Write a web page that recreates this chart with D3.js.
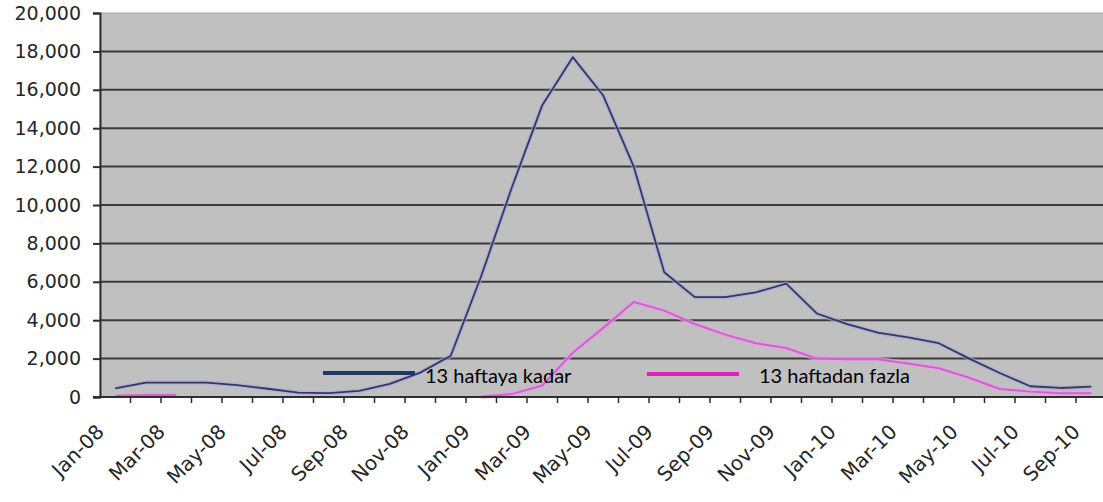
<!DOCTYPE html>
<meta charset="utf-8">
<title>13 haftaya kadar / 13 haftadan fazla</title>
<style>
body {
  margin: 0px;
  background: white;
}
svg {
  display: block;
}
.ylab, .xlab {
  font-family: "DejaVu Sans", Verdana, sans-serif;
  font-size: 19px;
  fill: #262626;
}
.xlab {
  font-size: 20px;
}
.legend text {
  font-family: Lato, "Open Sans", sans-serif;
  font-size: 20px;
  fill: #000;
}
</style>
<body>
<div id="chart"></div>
</body>
<script src="https://cdn.jsdelivr.net/npm/d3@7/dist/d3.min.js"></script>
<script>

// Months on the x axis
var months = ["Jan-08","Feb-08","Mar-08","Apr-08","May-08","Jun-08","Jul-08","Aug-08","Sep-08","Oct-08","Nov-08","Dec-08",
              "Jan-09","Feb-09","Mar-09","Apr-09","May-09","Jun-09","Jul-09","Aug-09","Sep-09","Oct-09","Nov-09","Dec-09",
              "Jan-10","Feb-10","Mar-10","Apr-10","May-10","Jun-10","Jul-10","Aug-10","Sep-10"];

// 13 haftaya kadar
var upTo13 = [450, 750, 750, 750, 620, 430, 230, 200, 320, 680, 1270, 2150,
              6300, 10900, 15200, 17700, 15700, 12000, 6500, 5200, 5200, 5450, 5900, 4350,
              3800, 3350, 3100, 2800, 2000, 1250, 560, 470, 540];

// 13 haftadan fazla (no values between May-08 and Dec-08)
var over13 = [60, 100, 100, null, null, null, null, null, null, null, null, null,
              20, 150, 600, 2300, 3600, 4950, 4500, 3800, 3250, 2800, 2550, 2000,
              1960, 1960, 1750, 1500, 1000, 420, 280, 200, 190];

var yTicks = d3.range(0, 20001, 2000);
var labelEvery = 2;

var width = 1103, height = 502;

var svg = d3.select("#chart").append("svg")
    .attr("width", width)
    .attr("height", height);

var x = d3.scaleBand()
    .domain(months)
    .range([100, 100 + months.length * 30.5]);

var y = d3.scaleLinear()
    .domain([0, 20000])
    .range([397, 13]);

var cx = function(i){ return x(months[i]) + x.bandwidth() / 2; };

// plot area
svg.append("rect")
    .attr("x", x.range()[0])
    .attr("y", y(20000))
    .attr("width", x.range()[1] - x.range()[0])
    .attr("height", y(0) - y(20000))
    .attr("fill", "#c0c0c0")
    .attr("stroke", "#a8a8a8")
    .attr("stroke-width", 1);

// gridlines
svg.append("g").selectAll("line")
    .data(yTicks.filter(function(t){ return t > 0 && t < 20000; }))
    .enter().append("line")
    .attr("x1", x.range()[0])
    .attr("x2", x.range()[1])
    .attr("y1", y)
    .attr("y2", y)
    .attr("stroke", "#3c3c3c")
    .attr("stroke-width", 2);

// series lines
var line = d3.line()
    .defined(function(d){ return d != null; })
    .x(function(d, i){ return cx(i); })
    .y(function(d){ return y(d); });

var series = svg.append("g");

// soft halo under the blue line
series.append("path")
    .attr("d", line(upTo13))
    .attr("fill", "none")
    .attr("stroke", "#aaa6d6")
    .attr("stroke-width", 4.5)
    .attr("stroke-opacity", 0.6)
    .attr("stroke-linejoin", "round");

series.append("path")
    .attr("d", line(upTo13))
    .attr("fill", "none")
    .attr("stroke", "#35356a")
    .attr("stroke-width", 1.8)
    .attr("stroke-linejoin", "round");

series.append("path")
    .attr("d", line(over13))
    .attr("fill", "none")
    .attr("stroke", "#e7a3e4")
    .attr("stroke-width", 5)
    .attr("stroke-opacity", 0.7)
    .attr("stroke-linejoin", "round");

series.append("path")
    .attr("d", line(over13))
    .attr("fill", "none")
    .attr("stroke", "#d35fd0")
    .attr("stroke-width", 2)
    .attr("stroke-linejoin", "round");

// y axis
var yAxis = svg.append("g")
    .attr("transform", "translate(" + x.range()[0] + ",0)")
    .call(d3.axisLeft(y).tickValues(yTicks).tickFormat(d3.format(",")).tickSize(7).tickPadding(12));

yAxis.select(".domain").attr("stroke", "#2e2e2e").attr("stroke-width", 2);
yAxis.selectAll(".tick line").attr("stroke", "#2e2e2e").attr("stroke-width", 2);
yAxis.selectAll(".tick text").attr("class", "ylab").attr("font-family", null).attr("font-size", null);

// x axis line and ticks
var xg = svg.append("g");

xg.append("line")
    .attr("x1", x.range()[0] - 7)
    .attr("x2", x.range()[1])
    .attr("y1", y(0))
    .attr("y2", y(0))
    .attr("stroke", "#2e2e2e")
    .attr("stroke-width", 2);

xg.selectAll(".xtick")
    .data(months.slice(1))
    .enter().append("line")
    .attr("class", "xtick")
    .attr("x1", function(d){ return x(d); })
    .attr("x2", function(d){ return x(d); })
    .attr("y1", y(0))
    .attr("y2", y(0) + 6)
    .attr("stroke", "#2e2e2e")
    .attr("stroke-width", 1.5);

xg.selectAll(".xlab")
    .data(months.filter(function(d, i){ return i % labelEvery === 0; }))
    .enter().append("text")
    .attr("class", "xlab")
    .attr("text-anchor", "end")
    .attr("transform", function(d){
      return "translate(" + (x(d) + x.bandwidth() / 2 - 10) + "," + (y(0) + 36) + ") rotate(-45)";
    })
    .text(function(d){ return d; });

// legend laid over the plot
var legend = svg.append("g").attr("class", "legend");

legend.append("line")
    .attr("x1", 323).attr("x2", 415)
    .attr("y1", 373).attr("y2", 373)
    .attr("stroke", "#1f3864")
    .attr("stroke-width", 4);

legend.append("text")
    .attr("x", 425).attr("y", 383)
    .text("13 haftaya kadar");

legend.append("line")
    .attr("x1", 647).attr("x2", 739)
    .attr("y1", 374).attr("y2", 374)
    .attr("stroke", "#e21fbf")
    .attr("stroke-width", 4);

legend.append("text")
    .attr("x", 759).attr("y", 383)
    .text("13 haftadan fazla");

</script>
